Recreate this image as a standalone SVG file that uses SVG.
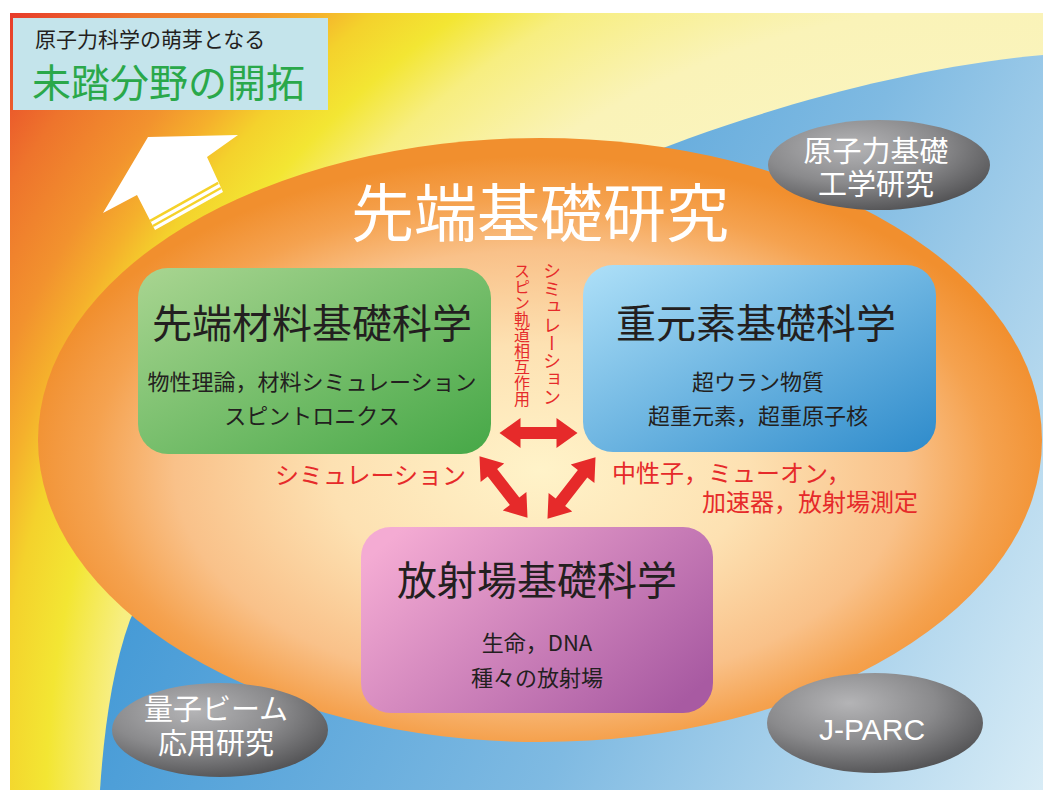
<svg xmlns="http://www.w3.org/2000/svg" xmlns:xlink="http://www.w3.org/1999/xlink" width="1043" height="790" viewBox="0 0 1043 790">
  <style>
    .jp { font-family: 'Noto Sans CJK JP', 'Noto Sans CJK SC', sans-serif; }
    .lat { font-family: 'Liberation Sans', 'Noto Sans CJK JP', sans-serif; }
    .blk { fill: #231f20; }
    .red { fill: #e62a2a; }
    .wht { fill: #ffffff; }
    .mid { text-anchor: middle; }
    .arrow { fill: #e62a2a; }
    .vert { writing-mode: vertical-rl; }
  </style>
  <defs>
    <radialGradient id="bgGrad" gradientUnits="userSpaceOnUse" cx="1000" cy="800" r="1280">
      <stop offset="0" stop-color="#fdfbe2"/>
      <stop offset="0.62" stop-color="#faf3b8"/>
      <stop offset="0.70" stop-color="#f7ee80"/>
      <stop offset="0.745" stop-color="#f3e633"/>
      <stop offset="0.785" stop-color="#f4d22c"/>
      <stop offset="0.815" stop-color="#f5b02c"/>
      <stop offset="0.85" stop-color="#f2922e"/>
      <stop offset="0.91" stop-color="#ee742c"/>
      <stop offset="1" stop-color="#e6322a"/>
    </radialGradient>
    <linearGradient id="blueGrad" gradientUnits="userSpaceOnUse" x1="150" y1="350" x2="1043" y2="790">
      <stop offset="0" stop-color="#3a94d4"/>
      <stop offset="0.55" stop-color="#7fbae2"/>
      <stop offset="1" stop-color="#d8ecf6"/>
    </linearGradient>
    <radialGradient id="orangeGrad" cx="0.5" cy="0.55" r="0.52">
      <stop offset="0" stop-color="#fff3c9"/>
      <stop offset="0.4" stop-color="#fde1b2"/>
      <stop offset="0.7" stop-color="#f9c189"/>
      <stop offset="0.86" stop-color="#f5a24f"/>
      <stop offset="1" stop-color="#f18f2e"/>
    </radialGradient>
    <linearGradient id="greenGrad" x1="0" y1="0" x2="1" y2="1">
      <stop offset="0" stop-color="#a9d591"/>
      <stop offset="1" stop-color="#46a847"/>
    </linearGradient>
    <linearGradient id="blueBoxGrad" x1="0" y1="0" x2="1" y2="1">
      <stop offset="0" stop-color="#aee0f8"/>
      <stop offset="1" stop-color="#2e8bcb"/>
    </linearGradient>
    <linearGradient id="pinkGrad" x1="0" y1="0.2" x2="1" y2="0.8">
      <stop offset="0" stop-color="#f4abd3"/>
      <stop offset="1" stop-color="#a85aa2"/>
    </linearGradient>
    <radialGradient id="grayGrad" cx="0.38" cy="0.3" r="0.8" fx="0.38" fy="0.3">
      <stop offset="0" stop-color="#b4b4b6"/>
      <stop offset="0.5" stop-color="#8a8a8c"/>
      <stop offset="1" stop-color="#48484a"/>
    </radialGradient>
    <clipPath id="bgClip">
      <rect x="10" y="13" width="1033" height="777"/>
    </clipPath>
    <path id="dbl" d="M-39,0 L-18,-15 L-18,-6 L18,-6 L18,-15 L39,0 L18,15 L18,6 L-18,6 L-18,15 Z"/>
  </defs>

  <g id="background" clip-path="url(#bgClip)">
    <rect x="10" y="13" width="1033" height="777" fill="url(#bgGrad)"/>
    <path d="M1043,55 C900,68 740,115 620,165 C420,260 200,460 130,620 C112,670 104,730 100,790 L1043,790 Z" fill="url(#blueGrad)"/>
  </g>

  <g id="big-arrow">
    <polygon points="103,213 148,137 238,135 207,157 223,192 155,230 137,195" fill="#ffffff"/>
    <line x1="152.9" y1="226" x2="220.9" y2="188" stroke="#f5d22a" stroke-width="2.5"/>
    <line x1="150.2" y1="220.8" x2="218.2" y2="182.8" stroke="#f5d22a" stroke-width="2.5"/>
  </g>

  <g id="label-frontier">
    <rect x="13" y="18" width="315" height="92" fill="#c4e4eb"/>
    <text class="jp blk" x="35" y="47" font-size="21">原子力科学の萌芽となる</text>
    <text class="jp" x="32" y="97" font-size="39" fill="#2aa84a">未踏分野の開拓</text>
  </g>

  <g id="main-ellipse">
    <ellipse cx="540" cy="440" rx="502" ry="302" fill="url(#orangeGrad)"/>
    <text class="jp wht mid" x="540" y="236" font-size="63">先端基礎研究</text>
  </g>

  <g id="node-materials">
    <rect x="138" y="268" width="353" height="186" rx="30" fill="url(#greenGrad)"/>
    <text class="jp blk mid" x="312" y="338" font-size="40">先端材料基礎科学</text>
    <text class="jp blk mid" x="312" y="390" font-size="22">物性理論，材料シミュレーション</text>
    <text class="jp blk mid" x="312" y="424" font-size="22">スピントロニクス</text>
  </g>

  <g id="node-heavy">
    <rect x="583" y="265" width="353" height="187" rx="30" fill="url(#blueBoxGrad)"/>
    <text class="jp blk mid" x="756" y="338" font-size="40">重元素基礎科学</text>
    <text class="jp blk mid" x="758" y="390" font-size="22">超ウラン物質</text>
    <text class="jp blk mid" x="758" y="424" font-size="22">超重元素，超重原子核</text>
  </g>

  <g id="node-radiation">
    <rect x="361" y="527" width="352" height="186" rx="30" fill="url(#pinkGrad)"/>
    <text class="jp blk mid" x="537" y="595" font-size="40">放射場基礎科学</text>
    <text class="jp blk mid" x="537" y="651" font-size="22">生命，DNA</text>
    <text class="jp blk mid" x="537" y="686" font-size="22">種々の放射場</text>
  </g>

  <g id="node-nuclear-eng">
    <ellipse cx="879" cy="165" rx="111" ry="45" fill="url(#grayGrad)"/>
    <text class="jp wht mid" font-size="29"><tspan x="876" y="162">原子力基礎</tspan><tspan x="876" y="195">工学研究</tspan></text>
  </g>

  <g id="node-quantum-beam">
    <ellipse cx="220" cy="730" rx="108" ry="47" fill="url(#grayGrad)"/>
    <text class="jp wht mid" font-size="29"><tspan x="216" y="720">量子ビーム</tspan><tspan x="216" y="754">応用研究</tspan></text>
  </g>

  <g id="node-jparc">
    <ellipse cx="875" cy="723" rx="108" ry="50" fill="url(#grayGrad)"/>
    <text class="lat wht mid" x="872" y="740" font-size="30">J-PARC</text>
  </g>

  <g id="connectors">
    <use xlink:href="#dbl" class="arrow" transform="translate(538.5,433)"/>
    <use xlink:href="#dbl" class="arrow" transform="translate(503.5,487) rotate(52)"/>
    <use xlink:href="#dbl" class="arrow" transform="translate(571.5,488) rotate(128)"/>
  </g>

  <g id="connector-labels">
    <text class="jp red vert" x="552" y="262" font-size="18">シミュレーション</text>
    <text class="jp red vert" x="522" y="263" font-size="16">スピン軌道相互作用</text>
    <text class="jp red" x="466" y="484" font-size="24" text-anchor="end">シミュレーション</text>
    <text class="jp red" font-size="24"><tspan x="612" y="482">中性子，ミューオン，</tspan><tspan x="702" y="511">加速器，放射場測定</tspan></text>
  </g>
</svg>
